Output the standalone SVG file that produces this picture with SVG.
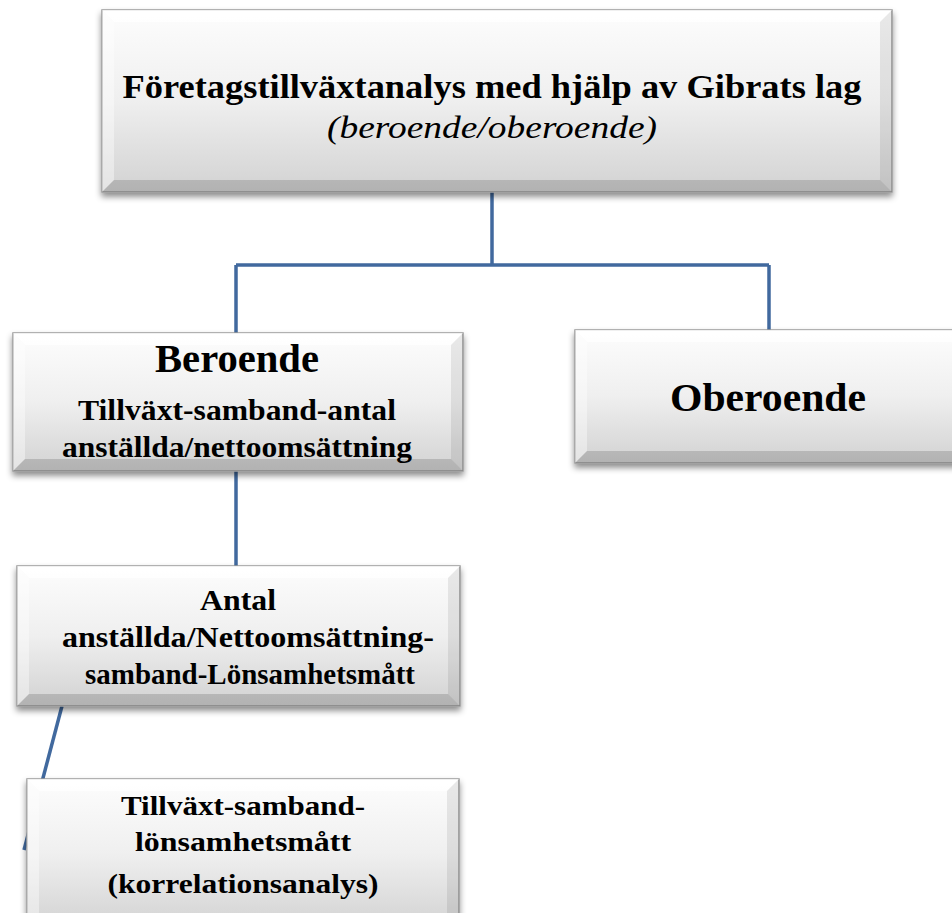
<svg xmlns="http://www.w3.org/2000/svg" width="952" height="913" viewBox="0 0 952 913">
<defs>
<linearGradient id="bg" x1="0" y1="0" x2="0" y2="1">
<stop offset="0" stop-color="#fdfdfd"/>
<stop offset="0.5" stop-color="#efefef"/>
<stop offset="1" stop-color="#d2d2d2"/>
</linearGradient>
<filter id="sh" x="-5%" y="-10%" width="110%" height="130%">
<feDropShadow dx="0" dy="4" stdDeviation="3" flood-color="#000" flood-opacity="0.45"/>
</filter>
</defs>
<style>
.box{fill:url(#bg);stroke:#9a9a9a;stroke-width:1.5;filter:url(#sh)}
.bt{fill:#fff;opacity:0.8}
.bl{fill:#fff;opacity:0.4}
.br{fill:#000;opacity:0.08}
.bb{fill:#000;opacity:0.15}
.t{font-family:"Liberation Serif","Times New Roman",serif;font-weight:bold;fill:#000;text-anchor:middle}
.i{font-family:"Liberation Serif","Times New Roman",serif;font-style:italic;fill:#000;text-anchor:middle}
.c{fill:none;stroke:#41699e;stroke-width:3.5}
</style>
<g id="connectors">
<path class="c" d="M492 192 V265 M236 265 H769 M236 265 V334 M769 265 V330"/>
<path class="c" d="M236 470 V567"/>
<path class="c" d="M62 706 L24 850"/>
</g>
<g id="n-top">
<rect class="box" x="102" y="10" width="790" height="182"/>
<polygon class="bt" points="102,10 892,10 880,22 114,22"/>
<polygon class="bl" points="102,10 114,22 114,180 102,192"/>
<polygon class="br" points="892,10 880,22 880,180 892,192"/>
<polygon class="bb" points="102,192 114,180 880,180 892,192"/>
<text class="t" x="492" y="98" font-size="34" textLength="739" lengthAdjust="spacingAndGlyphs">Företagstillväxtanalys med hjälp av Gibrats lag</text>
<text class="i" x="492" y="138" font-size="32" textLength="330" lengthAdjust="spacingAndGlyphs">(beroende/oberoende)</text>
</g>
<g id="n-beroende">
<rect class="box" x="13" y="333" width="450" height="138"/>
<polygon class="bt" points="13,333 463,333 451,345 25,345"/>
<polygon class="bl" points="13,333 25,345 25,459 13,471"/>
<polygon class="br" points="463,333 451,345 451,459 463,471"/>
<polygon class="bb" points="13,471 25,459 451,459 463,471"/>
<text class="t" x="237" y="372" font-size="39" textLength="164" lengthAdjust="spacingAndGlyphs">Beroende</text>
<text class="t" x="237" y="420" font-size="30" textLength="318" lengthAdjust="spacingAndGlyphs">Tillväxt-samband-antal</text>
<text class="t" x="237" y="457" font-size="30" textLength="350" lengthAdjust="spacingAndGlyphs">anställda/nettoomsättning</text>
</g>
<g id="n-oberoende">
<rect class="box" x="575" y="330" width="390" height="133"/>
<polygon class="bt" points="575,330 965,330 953,342 587,342"/>
<polygon class="bl" points="575,330 587,342 587,451 575,463"/>
<polygon class="bb" points="575,463 587,451 953,451 965,463"/>
<text class="t" x="768" y="411" font-size="39" textLength="196" lengthAdjust="spacingAndGlyphs">Oberoende</text>
</g>
<g id="n-antal">
<rect class="box" x="17" y="566" width="443" height="140"/>
<polygon class="bt" points="17,566 460,566 448,578 29,578"/>
<polygon class="bl" points="17,566 29,578 29,694 17,706"/>
<polygon class="br" points="460,566 448,578 448,694 460,706"/>
<polygon class="bb" points="17,706 29,694 448,694 460,706"/>
<text class="t" x="238" y="610" font-size="30" textLength="76" lengthAdjust="spacingAndGlyphs">Antal</text>
<text class="t" x="248" y="647" font-size="30" textLength="372" lengthAdjust="spacingAndGlyphs">anställda/Nettoomsättning-</text>
<text class="t" x="250" y="684" font-size="30" textLength="330" lengthAdjust="spacingAndGlyphs">samband-Lönsamhetsmått</text>
</g>
<g id="n-korr">
<rect class="box" x="27" y="779" width="432" height="150"/>
<polygon class="bt" points="27,779 459,779 447,791 39,791"/>
<polygon class="bl" points="27,779 39,791 39,929 27,929"/>
<polygon class="br" points="459,779 447,791 447,929 459,929"/>
<text class="t" x="243" y="815" font-size="28" textLength="244" lengthAdjust="spacingAndGlyphs">Tillväxt-samband-</text>
<text class="t" x="243" y="851" font-size="28" textLength="216" lengthAdjust="spacingAndGlyphs">lönsamhetsmått</text>
<text class="t" x="243" y="893" font-size="28" textLength="271" lengthAdjust="spacingAndGlyphs">(korrelationsanalys)</text>
</g>
</svg>
